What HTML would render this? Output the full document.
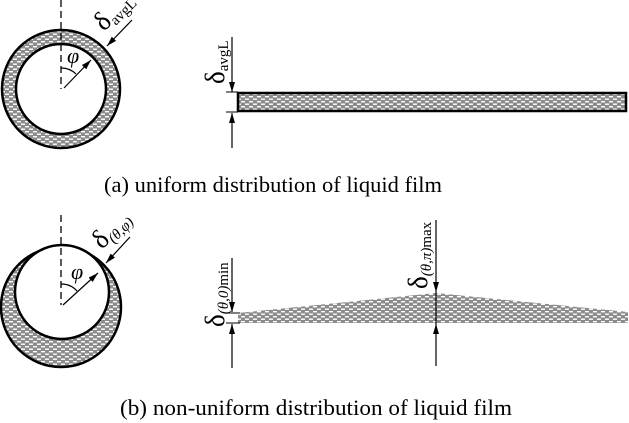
<!DOCTYPE html>
<html><head><meta charset="utf-8"><style>
html,body{margin:0;padding:0;background:#fff;width:629px;height:423px;overflow:hidden}
svg,text,tspan{font-family:"Liberation Serif","DejaVu Serif",serif}
</style></head><body>
<svg width="629" height="423" viewBox="0 0 629 423" xmlns="http://www.w3.org/2000/svg" font-family="Liberation Serif, serif">
<defs>
<pattern id="h" width="8" height="5" patternUnits="userSpaceOnUse">
<rect width="8" height="5" fill="#8c8c8c"/>
<rect x="1" y="1" width="4" height="1.4" fill="#fff"/>
<rect x="5" y="3.5" width="3" height="1.4" fill="#fff"/>
<rect x="0" y="3.5" width="1" height="1.4" fill="#fff"/>
</pattern>
<marker id="a" markerWidth="10" markerHeight="6" refX="10" refY="3" orient="auto" markerUnits="userSpaceOnUse"><path d="M0,0 L10,3 L0,6 z" fill="#000"/></marker>
</defs>
<!-- (a) circle -->
<circle cx="61" cy="89" r="52" fill="none" stroke="url(#h)" stroke-width="14"/>
<circle cx="61" cy="89" r="59" fill="none" stroke="#000" stroke-width="2.5"/>
<circle cx="61" cy="89" r="45" fill="none" stroke="#000" stroke-width="2.5"/>
<line x1="61" y1="0" x2="61" y2="89" stroke="#000" stroke-width="1.3" stroke-dasharray="7,4"/>
<line x1="64" y1="88" x2="91" y2="60" stroke="#000" stroke-width="1.2" marker-end="url(#a)"/>
<path d="M61,68 A21,21 0 0 1 76,74" fill="none" stroke="#000" stroke-width="1.2"/>
<text x="67" y="63" font-size="22" font-style="italic">φ</text>
<line x1="132" y1="20" x2="107" y2="46" stroke="#000" stroke-width="1.2" marker-end="url(#a)"/>
<text transform="translate(104,32) rotate(-45)" font-size="27">δ<tspan font-size="15" dy="4">avgL</tspan></text>
<!-- (a) strip -->
<rect x="238" y="93" width="388" height="18" fill="url(#h)" stroke="#000" stroke-width="2.5"/>
<line x1="232" y1="37" x2="232" y2="92" stroke="#000" stroke-width="1.2" marker-end="url(#a)"/>
<line x1="232" y1="148" x2="232" y2="113" stroke="#000" stroke-width="1.2" marker-end="url(#a)"/>
<line x1="226" y1="92" x2="238" y2="92" stroke="#000" stroke-width="1"/>
<line x1="226" y1="112" x2="238" y2="112" stroke="#000" stroke-width="1"/>
<text transform="translate(224,84) rotate(-90)" font-size="27">δ<tspan font-size="15" dy="4">avgL</tspan></text>
<text x="104" y="192" font-size="22" textLength="338" lengthAdjust="spacingAndGlyphs">(a) uniform distribution of liquid film</text>
<!-- (b) circle -->
<circle cx="61" cy="307" r="60" fill="url(#h)" stroke="#000" stroke-width="2.5"/>
<circle cx="62" cy="292" r="47" fill="#fff" stroke="#000" stroke-width="2.5"/>
<line x1="61" y1="215" x2="61" y2="305" stroke="#000" stroke-width="1.3" stroke-dasharray="7,4"/>
<line x1="63" y1="305" x2="98" y2="273" stroke="#000" stroke-width="1.2" marker-end="url(#a)"/>
<path d="M61,284 A21,21 0 0 1 77,291" fill="none" stroke="#000" stroke-width="1.2"/>
<text x="71" y="279" font-size="22" font-style="italic">φ</text>
<line x1="130" y1="237" x2="106" y2="263" stroke="#000" stroke-width="1.2" marker-end="url(#a)"/>
<text transform="translate(102,250) rotate(-45)" font-size="27">δ<tspan font-size="15" dy="4" font-style="italic">(θ,φ)</tspan></text>
<!-- (b) strip -->
<polygon points="238,313 436,293 628,312 628,323 238,323" fill="url(#h)"/>
<line x1="232" y1="258" x2="232" y2="312" stroke="#000" stroke-width="1.2" marker-end="url(#a)"/>
<line x1="232" y1="368" x2="232" y2="324" stroke="#000" stroke-width="1.2" marker-end="url(#a)"/>
<line x1="226" y1="313" x2="240" y2="313" stroke="#000" stroke-width="1"/>
<line x1="226" y1="323" x2="240" y2="323" stroke="#000" stroke-width="1"/>
<text transform="translate(224,327) rotate(-90)" font-size="27">δ<tspan font-size="15" dy="4"><tspan font-style="italic">(θ,0)</tspan>min</tspan></text>
<line x1="436" y1="220" x2="436" y2="292" stroke="#000" stroke-width="1.2" marker-end="url(#a)"/>
<line x1="436" y1="366" x2="436" y2="324" stroke="#000" stroke-width="1.2" marker-end="url(#a)"/>
<line x1="436" y1="292" x2="436" y2="324" stroke="#000" stroke-width="1.2"/>
<text transform="translate(427,289) rotate(-90)" font-size="27">δ<tspan font-size="15" dy="4"><tspan font-style="italic">(θ,π)</tspan>max</tspan></text>
<text x="120" y="415" font-size="22" textLength="392" lengthAdjust="spacingAndGlyphs">(b)  non-uniform distribution of liquid film</text>
</svg>
</body></html>
